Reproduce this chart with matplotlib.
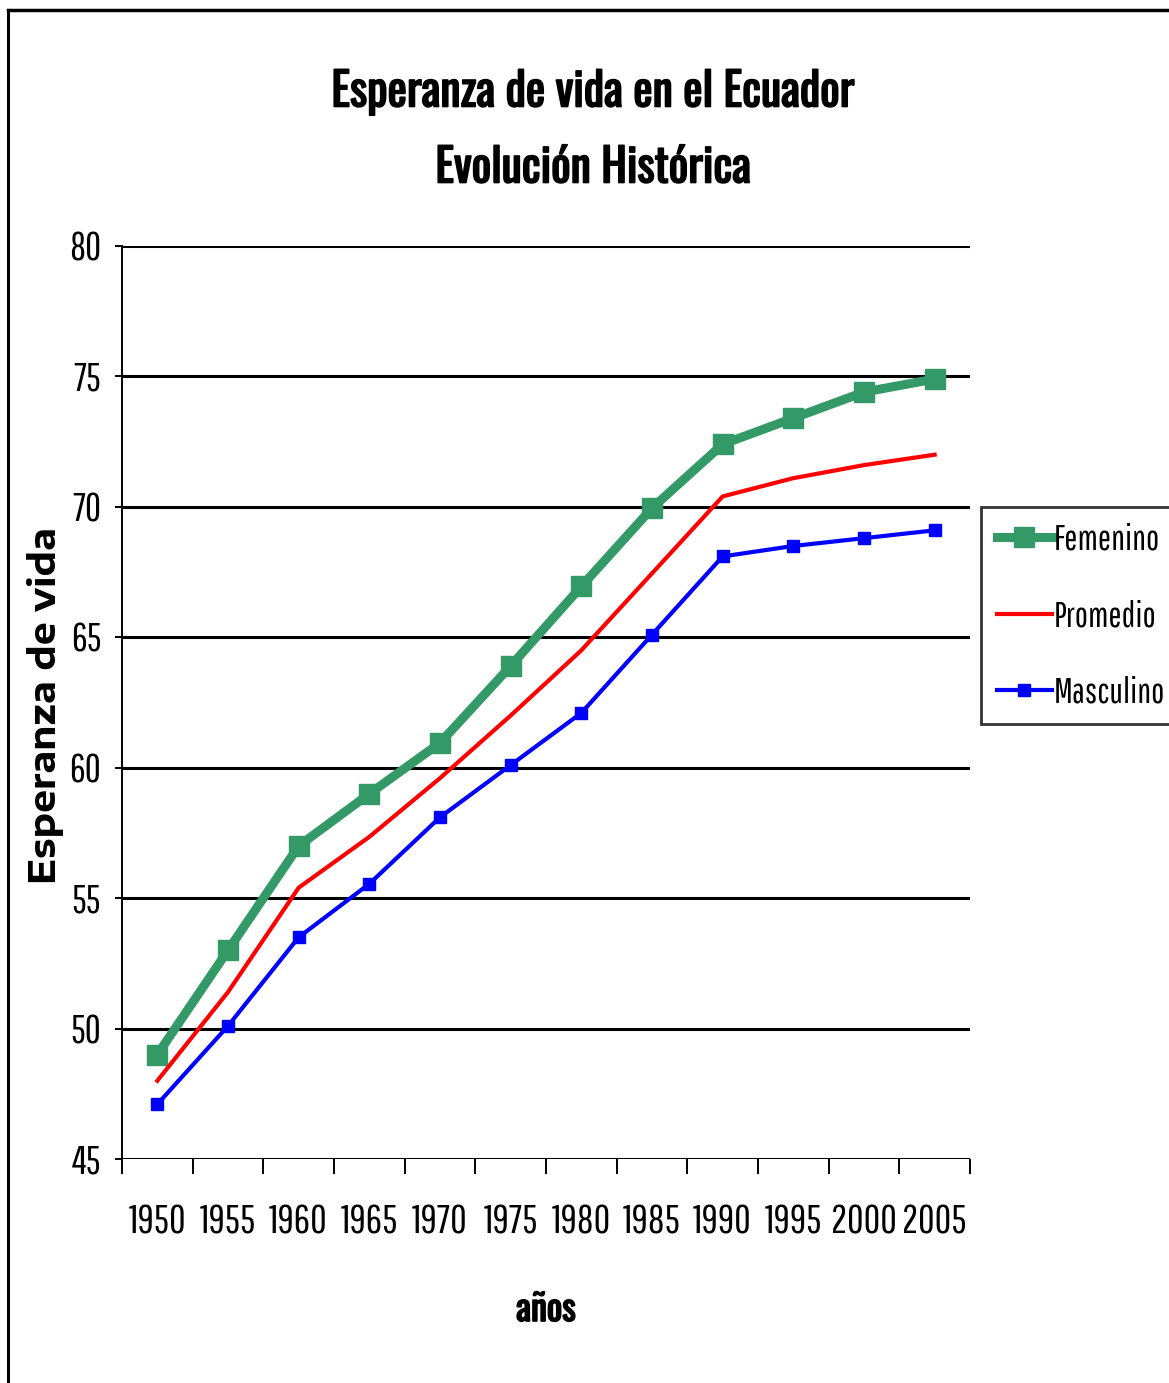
import matplotlib
matplotlib.use("Agg")
import matplotlib.pyplot as plt
import matplotlib.patheffects as pe
from matplotlib.lines import Line2D
from matplotlib.ticker import FixedLocator, NullFormatter, FixedFormatter

# Life expectancy data, Ecuador
years = ["1950", "1955", "1960", "1965", "1970", "1975",
         "1980", "1985", "1990", "1995", "2000", "2005"]
femenino = [49.0, 53.0, 57.0, 59.0, 60.95, 63.9, 66.95, 69.95, 72.4, 73.4, 74.4, 74.9]
promedio = [48.0, 51.4, 55.4, 57.35, 59.6, 62.0, 64.5, 67.45, 70.4, 71.1, 71.6, 72.0]
masculino = [47.1, 50.1, 53.5, 55.55, 58.1, 60.1, 62.1, 65.1, 68.1, 68.5, 68.8, 69.1]
y_ticks = [45, 50, 55, 60, 65, 70, 75, 80]

NARROW = ["Pathway Gothic One", "Roboto Condensed", "Liberation Sans", "DejaVu Sans"]
NARROW_BOLD = ["Oswald", "Roboto Condensed", "Liberation Sans", "DejaVu Sans"]
WIDE = ["Encode Sans Expanded", "DejaVu Sans"]
BOLDEN = [pe.withStroke(linewidth=1.2, foreground="black")]

W, H = 1169, 1383
fig = plt.figure(figsize=(W / 100, H / 100), dpi=100)
fig.patch.set_facecolor("white")

ax = fig.add_axes([122 / W, 1 - 1159 / H, (970 - 122) / W, (1159 - 246) / H])
x = list(range(len(years)))

ax.plot(x, femenino, color="#339966", lw=6.5, marker="s", ms=14,
        solid_joinstyle="miter", label="Femenino", zorder=3)
ax.plot(x, promedio, color="#ff0000", lw=3.0, label="Promedio", zorder=3)
ax.plot(x, masculino, color="#0000ff", lw=3.0, marker="s", ms=9,
        label="Masculino", zorder=3)

ax.set_xlim(-0.5, len(years) - 0.5)
ax.set_ylim(45, 80)

# horizontal gridlines
for v in y_ticks:
    ax.axhline(v, color="black", lw=2.2, zorder=1)

for s in ["top", "right", "bottom"]:
    ax.spines[s].set_visible(False)
ax.spines["left"].set_color("black")
ax.spines["left"].set_linewidth(1.4)

ax.yaxis.set_major_locator(FixedLocator(y_ticks))
ax.set_yticklabels([str(v) for v in y_ticks], family=NARROW, fontsize=28)
ax.tick_params(axis="y", length=5, width=1.4, pad=10, color="black")

# category boundaries carry the tick marks, centers carry the labels
ax.xaxis.set_major_locator(FixedLocator([i - 0.5 for i in range(len(years) + 1)]))
ax.xaxis.set_major_formatter(NullFormatter())
ax.xaxis.set_minor_locator(FixedLocator(x))
ax.xaxis.set_minor_formatter(FixedFormatter(years))
ax.tick_params(axis="x", which="major", length=11, width=1.4, color="black")
ax.tick_params(axis="x", which="minor", length=0, pad=33)
for lbl in ax.get_xticklabels(minor=True):
    lbl.set_family(NARROW)
    lbl.set_fontsize(29)

fig.text(46 / W, 1 - 706 / H, "Esperanza de vida", family=WIDE, fontweight="bold",
         fontsize=26, rotation=90, ha="center", va="center")

fig.text(546 / W, 1 - 1310 / H, "años", family=NARROW_BOLD,
         fontsize=26, ha="center", va="center", path_effects=BOLDEN)

fig.text(593 / W, 1 - 92 / H, "Esperanza de vida en el Ecuador",
         family=NARROW_BOLD, fontsize=33, ha="center", va="center",
         path_effects=BOLDEN)
fig.text(593 / W, 1 - 168 / H, "Evolución Histórica",
         family=NARROW_BOLD, fontsize=33, ha="center", va="center",
         path_effects=BOLDEN)

leg = fig.legend(loc="upper left", bbox_to_anchor=(981 / W, 1 - 507 / H),
                 prop={"family": NARROW, "size": 25}, frameon=True,
                 fancybox=False, handlelength=1.6, handletextpad=0.05,
                 labelspacing=1.25, borderpad=0.45, borderaxespad=0)
leg.get_frame().set_edgecolor("black")
leg.get_frame().set_linewidth(2)

# outer border of the chart area
fig.add_artist(Line2D([8 / W, 8 / W], [0, 1 - 10 / H], transform=fig.transFigure,
                      color="black", lw=2.2))
fig.add_artist(Line2D([8 / W, 1], [1 - 10 / H, 1 - 10 / H], transform=fig.transFigure,
                      color="black", lw=2.5))

fig.savefig("out.png", dpi=100, facecolor="white")
